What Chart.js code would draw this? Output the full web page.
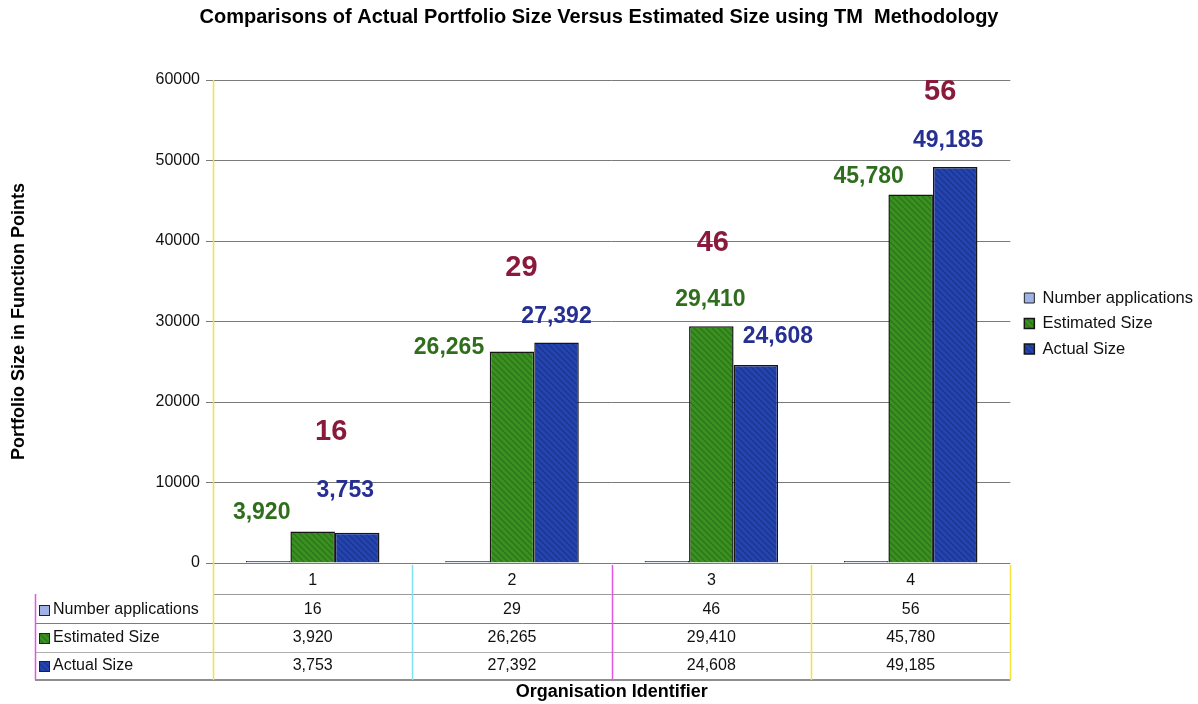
<!DOCTYPE html>
<html>
<head>
<meta charset="utf-8">
<script src="https://cdn.jsdelivr.net/npm/chart.js@4.4.1/dist/chart.umd.min.js"></script>
<style>
  html, body { margin: 0; padding: 0; background: #fff; }
  #wrap { width: 1198px; height: 704px; }
</style>
</head>
<body>
<div id="wrap"><canvas id="c" width="1198" height="704"></canvas></div>
<script>
// Organisation identifiers and portfolio figures
const categories = ['1', '2', '3', '4'];
const numberApplications = [16, 29, 46, 56];
const estimatedSize = [3920, 26265, 29410, 45780];
const actualSize = [3753, 27392, 24608, 49185];
const seriesNames = ['Number applications', 'Estimated Size', 'Actual Size'];
const yTickValues = [0, 10000, 20000, 30000, 40000, 50000, 60000];

const FONT = '"Liberation Sans", Arial, Helvetica, sans-serif';

// Diagonal hatch fill used on the size bars
function hatch(base, line) {
  const c = document.createElement('canvas');
  c.width = 6; c.height = 6;
  const g = c.getContext('2d');
  g.fillStyle = base;
  g.fillRect(0, 0, 6, 6);
  g.strokeStyle = line;
  g.lineWidth = 1.3;
  g.beginPath();
  g.moveTo(-3, 3); g.lineTo(3, 9);
  g.moveTo(0, 0); g.lineTo(6, 6);
  g.moveTo(3, -3); g.lineTo(9, 3);
  g.stroke();
  return g.createPattern(c, 'repeat');
}

const seriesColors = ['#9fb2e6', '#3a9020', '#2445b0'];
const seriesFills = [seriesColors[0], hatch('#3a9020', '#2c7617'), hatch('#2445b0', '#1b3591')];
const labelColors = ['#8a1a3c', '#2f6e1c', '#262f92'];

// Value labels above the bars, each nudged to sit clear of its neighbours
const valueLabels = {
  id: 'valueLabels',
  afterDatasetsDraw(chart, args, opts) {
    const ctx = chart.ctx;
    chart.data.datasets.forEach((ds, di) => {
      const meta = chart.getDatasetMeta(di);
      meta.data.forEach((bar, i) => {
        const [dx, dy] = opts.nudges[di][i];
        const top = chart.scales.y.getPixelForValue(ds.data[i]);
        ctx.save();
        ctx.font = 'bold ' + opts.sizes[di] + 'px ' + FONT;
        ctx.fillStyle = labelColors[di];
        ctx.textAlign = 'center';
        ctx.textBaseline = 'middle';
        ctx.fillText(ds.data[i].toLocaleString('en-US'), bar.x + dx, top + dy);
        ctx.restore();
      });
    });
  }
};

// Keeps a little white space between the plot edge and the legend swatches
const legendGap = {
  id: 'legendGap',
  afterLayout(chart, args, opts) {
    const lg = chart.legend;
    if (lg) {
      lg.left += opts.dx; lg.right += opts.dx;
      lg.top += opts.dy; lg.bottom += opts.dy;
    }
  }
};

// Data table underneath the plot area
const dataTable = {
  id: 'dataTable',
  afterDraw(chart) {
    const ctx = chart.ctx;
    const area = chart.chartArea;
    const xs = chart.scales.x;
    const n = categories.length;
    const colW = (area.right - area.left) / n;
    const labelLeft = 35;
    const rows = [610, 638, 666];
    const bottom = 680;
    const series = [numberApplications, estimatedSize, actualSize];

    ctx.save();
    // horizontal rules
    ctx.lineWidth = 1;
    ctx.strokeStyle = '#9a9a9a';
    ctx.beginPath(); ctx.moveTo(area.left, 594.5); ctx.lineTo(area.right, 594.5); ctx.stroke();
    ctx.strokeStyle = '#7c7c7c';
    ctx.beginPath(); ctx.moveTo(labelLeft, 623.5); ctx.lineTo(area.right, 623.5); ctx.stroke();
    ctx.strokeStyle = '#b0b0b0';
    ctx.beginPath(); ctx.moveTo(labelLeft, 652.5); ctx.lineTo(area.right, 652.5); ctx.stroke();
    ctx.strokeStyle = '#6a6a6a';
    ctx.lineWidth = 1.5;
    ctx.beginPath(); ctx.moveTo(labelLeft, bottom); ctx.lineTo(area.right, bottom); ctx.stroke();

    // column dividers
    const dividerColors = ['#f2e23a', '#7fe3ef', '#e256e0', '#f2e23a', '#f2e23a'];
    ctx.lineWidth = 1.5;
    for (let k = 0; k <= n; k++) {
      const x = Math.round(area.left + k * colW) + 0.5;
      ctx.strokeStyle = dividerColors[k];
      ctx.beginPath();
      ctx.moveTo(x, k === 0 ? area.top : area.bottom + 2);
      ctx.lineTo(x, bottom);
      ctx.stroke();
    }
    ctx.strokeStyle = '#e256e0';
    ctx.beginPath(); ctx.moveTo(labelLeft + 0.5, 594); ctx.lineTo(labelLeft + 0.5, bottom); ctx.stroke();

    // row headers with swatches
    ctx.font = '16px ' + FONT;
    ctx.textBaseline = 'middle';
    rows.forEach((y, r) => {
      ctx.fillStyle = seriesFills[r];
      ctx.fillRect(39, y - 5, 10, 10);
      ctx.strokeStyle = '#222';
      ctx.lineWidth = 1;
      ctx.strokeRect(39.5, y - 4.5, 10, 10);
      ctx.fillStyle = '#111';
      ctx.textAlign = 'left';
      ctx.fillText(seriesNames[r], 53, y);
      ctx.textAlign = 'center';
      series[r].forEach((v, i) => {
        ctx.fillText(v.toLocaleString('en-US'), xs.getPixelForValue(i), y);
      });
    });
    ctx.restore();
  }
};

const ctx = document.getElementById('c').getContext('2d');
new Chart(ctx, {
  type: 'bar',
  data: {
    labels: categories,
    datasets: [
      { label: seriesNames[0], data: numberApplications, backgroundColor: seriesFills[0],
        borderColor: '#222', borderWidth: 1, minBarLength: 2 },
      { label: seriesNames[1], data: estimatedSize, backgroundColor: seriesFills[1],
        borderColor: '#151515', borderWidth: 1.5 },
      { label: seriesNames[2], data: actualSize, backgroundColor: seriesFills[2],
        borderColor: '#151515', borderWidth: 1.5 }
    ]
  },
  options: {
    responsive: false,
    animation: false,
    events: [],
    devicePixelRatio: 1,
    datasets: { bar: { categoryPercentage: 0.67, barPercentage: 1.0 } },
    layout: { padding: { left: 0, right: 0, top: 0, bottom: 0 } },
    scales: {
      x: {
        grid: { display: false, drawTicks: false },
        border: { display: false },
        ticks: { font: { family: FONT, size: 16 }, color: '#111', padding: 8 },
        title: { display: true, text: 'Organisation Identifier', color: '#000',
                 font: { family: FONT, size: 18, weight: 'bold' }, padding: { top: 0, bottom: 1 } },
        afterFit(scale) { scale.height = 141; }
      },
      y: {
        min: 0, max: 60000,
        afterBuildTicks(scale) { scale.ticks = yTickValues.map(v => ({ value: v })); },
        ticks: { font: { family: FONT, size: 16 }, color: '#111', padding: 6,
                 callback: v => String(v) },
        grid: { color: '#7a7a7a', lineWidth: 1, tickLength: 7 },
        border: { display: false },
        title: { display: true, text: 'Portfolio Size in Function Points', color: '#000',
                 font: { family: FONT, size: 18, weight: 'bold' }, padding: { top: 8, bottom: 0 } },
        afterFit(scale) { scale.width = 213; }
      }
    },
    plugins: {
      title: {
        display: true,
        text: 'Comparisons of Actual Portfolio Size Versus Estimated Size using TM  Methodology',
        color: '#000',
        font: { family: FONT, size: 20, weight: 'bold' },
        padding: { top: 5, bottom: 51 }
      },
      legend: {
        position: 'right',
        align: 'center',
        fullSize: false,
        labels: {
          font: { family: FONT, size: 16.5 },
          color: '#111',
          boxWidth: 10,
          boxHeight: 10,
          padding: 9
        }
      },
      legendGap: { dx: 5, dy: 2 },
      tooltip: { enabled: false },
      valueLabels: {
        sizes: [29, 23, 23],
        nudges: [
          [[63, -131], [54, -295], [46, -320], [74, -471]],
          [[-51, -19], [-63, -4], [-1, -27], [-42, -18]],
          [[-12, -42], [0, -26], [22, -28], [-7, -26]]
        ]
      }
    }
  },
  plugins: [legendGap, valueLabels, dataTable]
});
</script>
</body>
</html>
